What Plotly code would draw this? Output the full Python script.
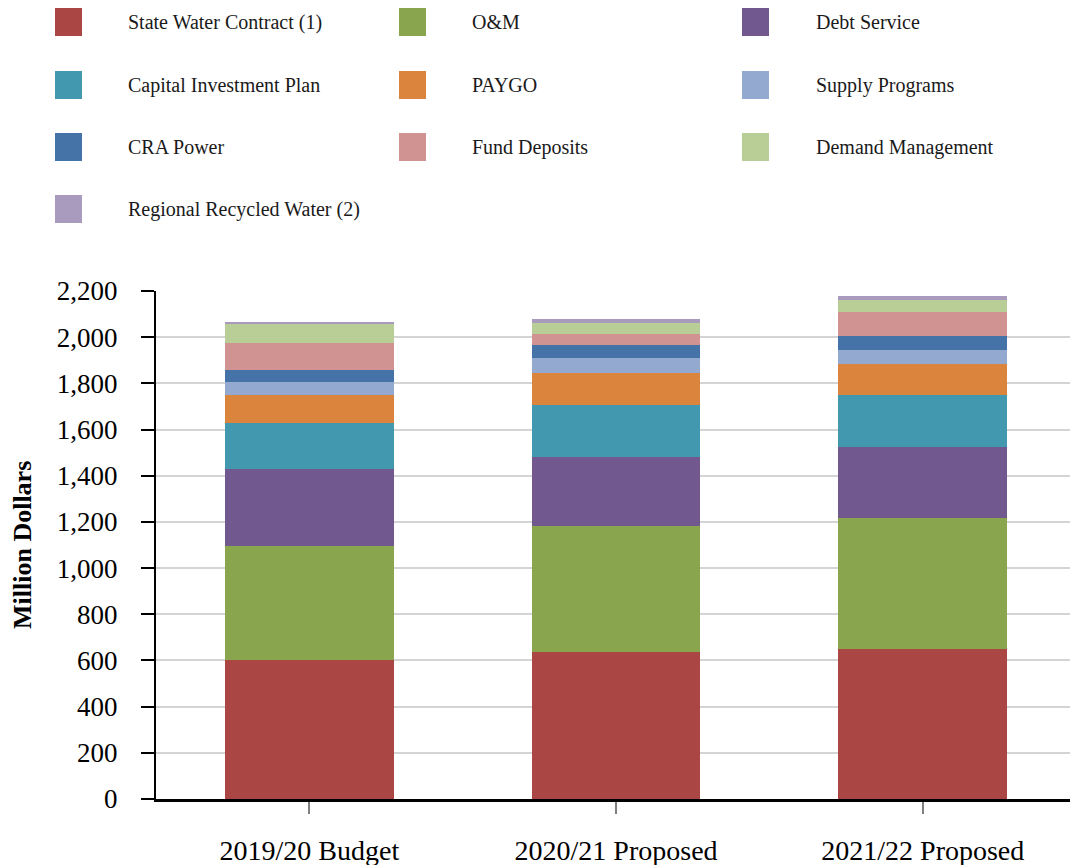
import plotly.graph_objects as go

categories = ["2019/20 Budget", "2020/21 Proposed", "2021/22 Proposed"]

state_water_contract = [602, 637, 650]
om = [494, 545, 567]
debt_service = [333, 299, 308]
capital_investment_plan = [199, 225, 225]
paygo = [122, 139, 134]
supply_programs = [56, 65, 61]
cra_power = [52, 56, 60]
fund_deposits = [117, 48, 104]
demand_management = [85, 48, 52]
regional_recycled_water = [6, 17, 17]

series_names = [
    "State Water Contract (1)", "O&M", "Debt Service",
    "Capital Investment Plan", "PAYGO", "Supply Programs",
    "CRA Power", "Fund Deposits", "Demand Management",
    "Regional Recycled Water (2)",
]
series_values = [
    state_water_contract, om, debt_service, capital_investment_plan, paygo,
    supply_programs, cra_power, fund_deposits, demand_management,
    regional_recycled_water,
]
colors = [
    "#AA4643", "#89A54E", "#71588F", "#4198AF", "#DB843D",
    "#93A9CF", "#4572A7", "#D19392", "#B9CD96", "#A99BBD",
]

W, H = 1070, 865
L, R, T, B = 156, 0, 291, 66
plot_w = W - L - R
plot_h = H - T - B

fig = go.Figure()
for name, vals, col in zip(series_names, series_values, colors):
    fig.add_trace(go.Bar(
        x=categories, y=vals, name=name, marker=dict(color=col, line=dict(width=0)),
        width=0.55, showlegend=False,
    ))

def px_x(px):
    return (px - L) / plot_w

def px_y(py):
    return (H - B - py) / plot_h

# custom legend (3 columns)
col_sw = [55, 399, 742]
col_tx = [126, 470, 814]
row_c = [22, 85, 147, 209]
shapes = []
annotations = []
for i, (name, col) in enumerate(zip(series_names, colors)):
    r, c = divmod(i, 3)
    yc = row_c[r]
    shapes.append(dict(
        type="rect", xref="paper", yref="paper",
        x0=px_x(col_sw[c]), x1=px_x(col_sw[c] + 27),
        y0=px_y(yc + 14), y1=px_y(yc - 14),
        fillcolor=col, line=dict(width=0),
    ))
    annotations.append(dict(
        xref="paper", yref="paper", x=px_x(col_tx[c]), y=px_y(yc),
        xanchor="left", yanchor="middle", text=name, showarrow=False,
        font=dict(family="Liberation Serif", size=20, color="#1a1a1a"),
    ))

annotations.append(dict(
    xref="paper", yref="paper", x=px_x(22), y=px_y(545),
    xanchor="center", yanchor="middle", text="<b>Million Dollars</b>",
    textangle=-90, showarrow=False,
    font=dict(family="Liberation Serif", size=26, color="#000000"),
))

fig.update_layout(
    width=W, height=H,
    margin=dict(l=L, r=R, t=T, b=B, pad=0),
    barmode="stack",
    plot_bgcolor="white", paper_bgcolor="white",
    shapes=shapes, annotations=annotations,
    font=dict(family="Liberation Serif", color="#000000"),
    xaxis=dict(
        range=[-0.5, 2.48],
        showline=True, linecolor="#000000", linewidth=3,
        ticks="outside", tickcolor="#7f7f7f", ticklen=12, tickwidth=2,
        tickfont=dict(family="Liberation Serif", size=28, color="#000000"),
        ticklabelstandoff=12,
        showgrid=False,
    ),
    yaxis=dict(
        range=[0, 2200], tickvals=list(range(0, 2201, 200)),
        tickformat=",d",
        showline=True, linecolor="#000000", linewidth=2,
        ticks="outside", tickcolor="#000000", ticklen=13, tickwidth=1.5,
        tickfont=dict(family="Liberation Serif", size=27, color="#000000"),
        ticklabelstandoff=18,
        showgrid=True, gridcolor="#d4d4d4", gridwidth=1.5,
        zeroline=False,
    ),
)

fig.write_html(
    "out.html",
    config={"displayModeBar": False},
    post_script="document.body.style.margin='0';document.body.style.overflow='hidden';",
)
